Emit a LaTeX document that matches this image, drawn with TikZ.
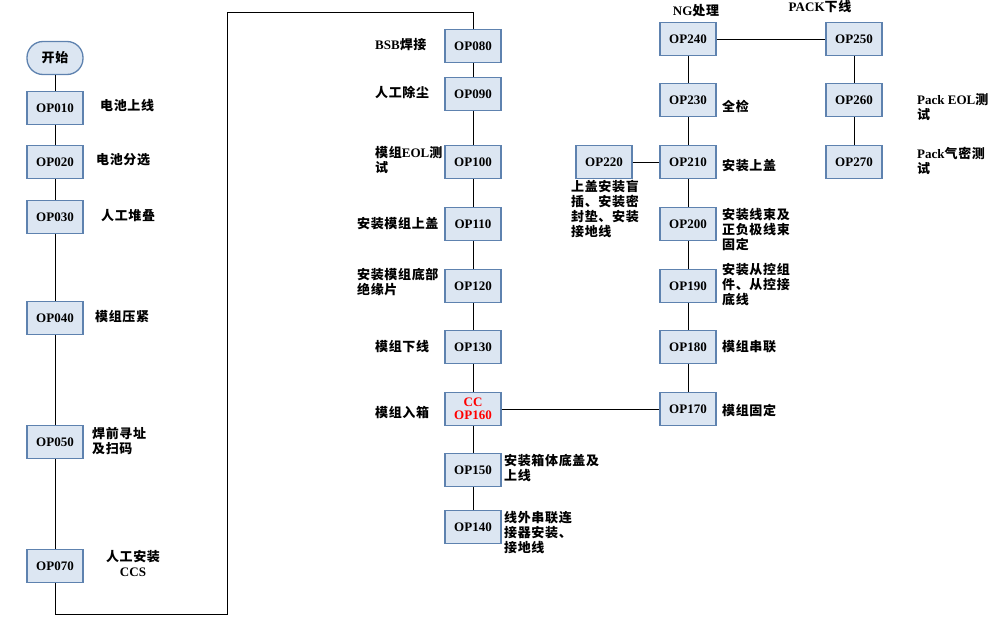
\documentclass[tikz,border=0pt]{standalone}
\usepackage{fontspec}
\setmainfont{Noto Sans CJK SC}[LetterSpace=5]
\newfontfamily\lat{Liberation Serif}
\definecolor{boxfill}{RGB}{220,230,242}
\definecolor{boxline}{RGB}{94,130,175}
\begin{document}
\begin{tikzpicture}[x=1pt,y=-1pt,
  opbox/.style={draw=boxline,fill=boxfill,line width=1.3pt,minimum width=56pt,minimum height=33pt,inner sep=0pt,font=\lat\bfseries\fontsize{13}{15}\selectfont},
  startbox/.style={opbox,rounded corners=16pt,font=\bfseries\fontsize{13}{15}\selectfont},
  lab/.style={inner sep=0pt,anchor=west,align=left,font=\bfseries\fontsize{13}{15}\selectfont},
  clab/.style={lab,anchor=center,align=center},
  conn/.style={draw=black,line width=0.8pt}]
\useasboundingbox (0,0) rectangle (997,623);
% left column
\node[startbox] (start) at (55,58) {开始};
\node[opbox] (op010) at (55,108) {OP010};
\node[opbox] (op020) at (55,162) {OP020};
\node[opbox] (op030) at (55,217) {OP030};
\node[opbox] (op040) at (55,318) {OP040};
\node[opbox] (op050) at (55,442) {OP050};
\node[opbox] (op070) at (55,566) {OP070};
% middle column
\node[opbox] (op080) at (473,46) {OP080};
\node[opbox] (op090) at (473,94) {OP090};
\node[opbox] (op100) at (473,162) {OP100};
\node[opbox] (op110) at (473,224) {OP110};
\node[opbox] (op120) at (473,286) {OP120};
\node[opbox] (op130) at (473,347) {OP130};
\node[opbox,align=center,text=red] (op160) at (473,409) {CC\\[-2pt]OP160};
\node[opbox] (op150) at (473,470) {OP150};
\node[opbox] (op140) at (473,527) {OP140};
% right column
\node[opbox] (op240) at (688,39) {OP240};
\node[opbox] (op230) at (688,100) {OP230};
\node[opbox] (op210) at (688,162) {OP210};
\node[opbox] (op220) at (604,162) {OP220};
\node[opbox] (op200) at (688,224) {OP200};
\node[opbox] (op190) at (688,286) {OP190};
\node[opbox] (op180) at (688,347) {OP180};
\node[opbox] (op170) at (688,409) {OP170};
% far right
\node[opbox] (op250) at (854,39) {OP250};
\node[opbox] (op260) at (854,100) {OP260};
\node[opbox] (op270) at (854,162) {OP270};
% labels
\node[lab] (l010) at (100,106) {电池上线};
\node[lab] (l020) at (96,160) {电池分选};
\node[lab] (l030) at (101,216) {人工堆叠};
\node[lab] (l040) at (95,317) {模组压紧};
\node[lab] (l050) at (92,441) {焊前寻址\\及扫码};
\node[clab] (l070) at (133,563) {人工安装\\{\lat CCS}};
\node[lab] (l080) at (375,45) {{\lat BSB}焊接};
\node[lab] (l090) at (375,92) {人工除尘};
\node[lab] (l100) at (375,160) {模组{\lat EOL}测\\试};
\node[lab] (l110) at (357,224) {安装模组上盖};
\node[lab] (l120) at (357,282) {安装模组底部\\绝缘片};
\node[lab] (l130) at (375,347) {模组下线};
\node[lab] (l160) at (375,413) {模组入箱};
\node[lab] (l150) at (504,468) {安装箱体底盖及\\上线};
\node[lab] (l140) at (504,533) {线外串联连\\接器安装、\\接地线};
\node[clab] (l240) at (696,11) {{\lat NG}处理};
\node[lab] (l230) at (722,106) {全检};
\node[lab] (l210) at (722,166) {安装上盖};
\node[lab] (l220) at (571,209) {上盖安装盲\\插、安装密\\封垫、安装\\接地线};
\node[lab] (l200) at (722,230) {安装线束及\\正负极线束\\固定};
\node[lab] (l190) at (722,285) {安装从控组\\件、从控接\\底线};
\node[lab] (l180) at (722,347) {模组串联};
\node[lab] (l170) at (722,410) {模组固定};
\node[clab] (l250) at (820,7) {{\lat PACK}下线};
\node[lab] (l260) at (917,107) {{\lat Pack EOL}测\\试};
\node[lab] (l270) at (917,161) {{\lat Pack}气密测\\试};
% connectors
\coordinate (c1) at (55,614);
\coordinate (c2) at (227,614);
\coordinate (c3) at (227,12);
\coordinate (c4) at (473,12);
\draw[conn] (start) -- (op010) -- (op020) -- (op030) -- (op040) -- (op050) -- (op070);
\draw[conn] (op070.south) -- (c1) -- (c2) -- (c3) -- (c4) -- (op080.north);
\draw[conn] (op080) -- (op090) -- (op100) -- (op110) -- (op120) -- (op130) -- (op160) -- (op150) -- (op140);
\draw[conn] (op160) -- (op170);
\draw[conn] (op170) -- (op180) -- (op190) -- (op200) -- (op210) -- (op230) -- (op240);
\draw[conn] (op220) -- (op210);
\draw[conn] (op240) -- (op250);
\draw[conn] (op250) -- (op260) -- (op270);
\end{tikzpicture}
\end{document}
